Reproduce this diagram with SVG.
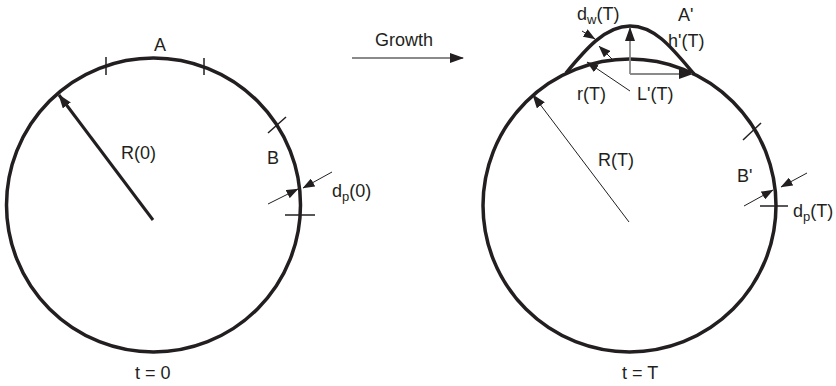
<svg xmlns="http://www.w3.org/2000/svg" width="836" height="386" viewBox="0 0 836 386">
<style>
text{font-family:"Liberation Sans",Arial,sans-serif;font-size:18px;fill:#231f20}
.sub{font-size:13px}
.thick{fill:none;stroke:#231f20;stroke-width:3.5}
.tick{stroke:#231f20;stroke-width:1.5}
.thin{stroke:#231f20;stroke-width:1}
.gray{stroke:#8a8a8a;stroke-width:1.8;fill:none}
</style>
<defs>
<marker id="ah" markerUnits="userSpaceOnUse" markerWidth="14" markerHeight="10" refX="13" refY="5" orient="auto" viewBox="0 0 14 10">
<path d="M0,0 L14,5 L0,10 z" fill="#231f20"/>
</marker>
<marker id="ahs" markerUnits="userSpaceOnUse" markerWidth="12" markerHeight="9" refX="11.5" refY="4.5" orient="auto" viewBox="0 0 12 9">
<path d="M0,0 L12,4.5 L0,9 z" fill="#231f20"/>
</marker>
</defs>
<g id="state-t0">
<circle class="thick" cx="153.5" cy="205" r="147"/>
<line class="tick" x1="106" y1="57" x2="106" y2="75"/>
<line class="tick" x1="204" y1="58" x2="204" y2="75"/>
<line class="tick" x1="268" y1="133" x2="286" y2="117"/>
<line class="tick" x1="285" y1="215" x2="315" y2="215"/>
<text x="160" y="51" text-anchor="middle">A</text>
<text x="121" y="159">R(0)</text>
<text x="267" y="164">B</text>
<text x="332" y="197">d<tspan class="sub" dy="4">p</tspan><tspan dy="-4">(0)</tspan></text>
<text x="135" y="379">t = 0</text>
</g>
<g id="growth">
<text x="375" y="46">Growth</text>
</g>
<g id="state-tT">
<circle class="thick" cx="629.5" cy="205.5" r="146.5"/>
<path class="thick" d="M566,73 C585,50 605,26 630,26 C655,26 672,48 694,74"/>
<line class="tick" x1="743" y1="140" x2="761" y2="123"/>
<line class="tick" x1="760" y1="206" x2="788" y2="206"/>
<text x="577" y="20">d<tspan class="sub" dy="4">w</tspan><tspan dy="-4">(T)</tspan></text>
<text x="678" y="21">A'</text>
<text x="668" y="47">h'(T)</text>
<text x="577" y="100">r(T)</text>
<text x="637" y="100">L'(T)</text>
<text x="598" y="166">R(T)</text>
<text x="737" y="182">B'</text>
<text x="793" y="217">d<tspan class="sub" dy="4">p</tspan><tspan dy="-4">(T)</tspan></text>
<text x="622" y="379">t = T</text>
</g>
<g id="connectors">
<line x1="352" y1="58" x2="463" y2="58" class="gray" marker-end="url(#ah)"/>
<line x1="153" y1="220" x2="59" y2="95" stroke="#231f20" stroke-width="3" marker-end="url(#ah)"/>
<line x1="332" y1="172" x2="303" y2="188" class="thin" marker-end="url(#ahs)"/>
<line x1="268" y1="204" x2="298" y2="189" class="thin" marker-end="url(#ahs)"/>
<line x1="629" y1="222" x2="533" y2="95" class="thin" marker-end="url(#ah)"/>
<line x1="807" y1="173" x2="781" y2="187" class="thin" marker-end="url(#ahs)"/>
<line x1="744" y1="206" x2="773" y2="190" class="thin" marker-end="url(#ahs)"/>
<line x1="630" y1="74" x2="630" y2="28" class="gray" marker-end="url(#ah)"/>
<line x1="630" y1="74" x2="692" y2="74" class="gray" marker-end="url(#ah)"/>
<line x1="582" y1="31" x2="595" y2="39" class="thin" marker-end="url(#ahs)"/>
<line x1="613" y1="60" x2="599" y2="46" class="thin" marker-end="url(#ahs)"/>
<line x1="630" y1="91" x2="587" y2="62" class="thin" marker-end="url(#ahs)"/>
</g>
</svg>
